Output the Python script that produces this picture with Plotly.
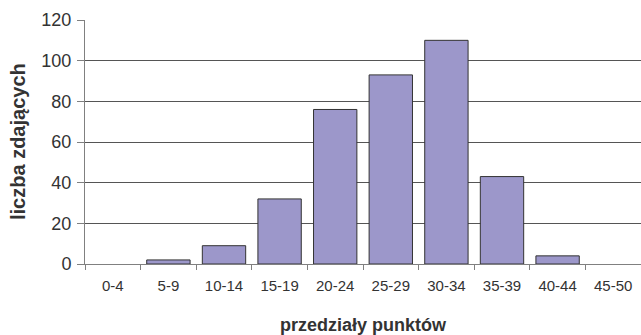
import plotly.graph_objects as go

categories = ["0-4", "5-9", "10-14", "15-19", "20-24", "25-29", "30-34", "35-39", "40-44", "45-50"]
counts = [0, 2, 9, 32, 76, 93, 110, 43, 4, 0]
y_ticks = [0, 20, 40, 60, 80, 100, 120]

# empty classes are not drawn as bars (no outline at zero height)
bar_values = [v if v else None for v in counts]

fig = go.Figure(go.Bar(
    x=categories, y=bar_values,
    marker=dict(color="#9C97CA", line=dict(color="#333333", width=1)),
))

L, R, T, B = 85, 0, 20, 71
W, H = 641, 335
pw, ph = W - L - R, H - T - B

fig.update_layout(
    width=W, height=H,
    margin=dict(l=L, r=R, t=T, b=B, autoexpand=False),
    paper_bgcolor="white", plot_bgcolor="white",
    bargap=0.22,
    showlegend=False,
    font=dict(family="Liberation Sans, Arial, sans-serif", color="#333333"),
    annotations=[
        dict(text="<b>przedziały punktów</b>", xref="paper", yref="paper",
             x=0.5, y=(264 - 325) / ph, xanchor="center", yanchor="middle",
             showarrow=False, font=dict(size=18, color="#333333")),
        dict(text="<b>liczba zdających</b>", xref="paper", yref="paper",
             x=(18 - L) / pw, y=0.5, xanchor="center", yanchor="middle",
             textangle=-90, showarrow=False, font=dict(size=20, color="#333333")),
    ],
)
fig.update_xaxes(
    type="category", range=[-0.5, 9.5], automargin=False,
    showline=True, linecolor="#808080", linewidth=1,
    ticks="outside", tickson="boundaries", ticklen=5, tickcolor="#808080",
    tickfont=dict(size=15, color="#333333"), ticklabelstandoff=8,
    showgrid=False,
)
fig.update_yaxes(
    range=[0, 120], tickvals=y_ticks, automargin=False,
    showline=True, linecolor="#808080", linewidth=1,
    ticks="outside", ticklen=7, tickcolor="#808080",
    tickfont=dict(size=18, color="#333333"), ticklabelstandoff=2,
    showgrid=True, gridcolor="#555555", gridwidth=1,
    zeroline=False,
)

fig.write_html("out.html", config={"displayModeBar": False},
               post_script="document.body.style.margin='0';document.body.style.overflow='hidden';")
